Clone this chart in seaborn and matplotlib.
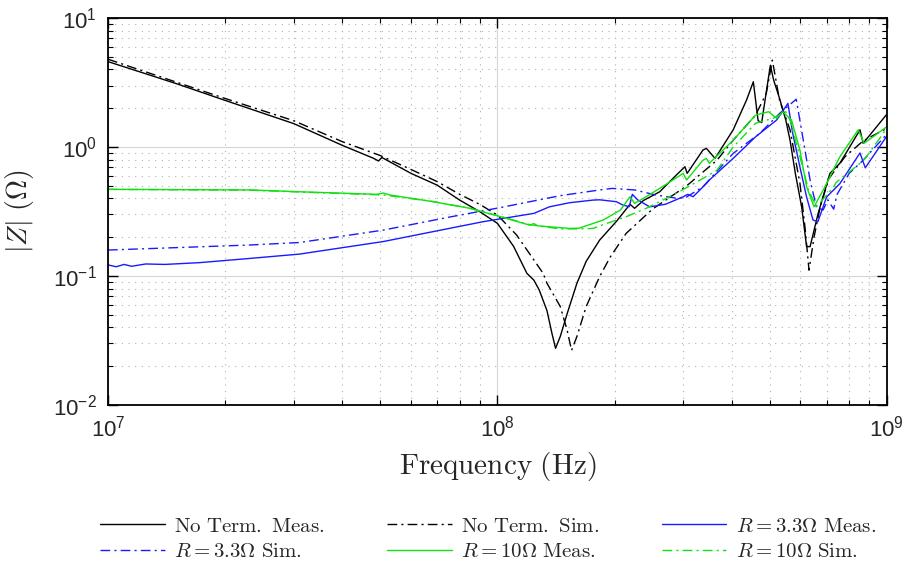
import numpy as np
import matplotlib
matplotlib.use("Agg")
import matplotlib.pyplot as plt
import seaborn as sns
from matplotlib.font_manager import FontProperties
from matplotlib.ticker import LogLocator, NullFormatter

# Impedance magnitude |Z| (Ohm) vs frequency (Hz)

# No termination, measured
ntm_f = [1.0e7, 1.5e7, 2.0e7, 3.0e7, 4.0e7, 4.8e7, 4.95e7, 5.05e7, 6.0e7, 7.0e7,
         8.0e7, 9.0e7, 1.0e8, 1.1e8, 1.19e8, 1.24e8, 1.28e8, 1.34e8, 1.38e8, 1.41e8,
         1.45e8, 1.51e8, 1.6e8, 1.69e8, 1.83e8, 2.02e8, 2.19e8, 2.25e8, 2.37e8, 2.61e8,
         2.88e8, 3.03e8, 3.07e8, 3.37e8, 3.44e8, 3.62e8, 4.03e8, 4.36e8, 4.54e8, 4.67e8,
         4.77e8, 4.91e8, 5.02e8, 5.12e8, 5.3e8, 5.5e8, 5.64e8, 5.82e8, 6.04e8, 6.22e8,
         6.35e8, 6.66e8, 7.14e8, 7.57e8, 8.53e8, 8.69e8, 1.0e9]
ntm_z = [4.6, 3.1, 2.3, 1.52, 1.03, 0.82, 0.78, 0.83, 0.625, 0.507,
         0.388, 0.316, 0.256, 0.17, 0.105, 0.093, 0.078, 0.054, 0.036, 0.0275,
         0.034, 0.051, 0.088, 0.13, 0.19, 0.265, 0.36, 0.335, 0.385, 0.45,
         0.607, 0.704, 0.625, 0.948, 0.977, 0.817, 1.36, 2.31, 3.21, 1.6,
         1.55, 2.77, 4.3, 3.3, 2.39, 1.62, 1.13, 0.625, 0.345, 0.169,
         0.169, 0.306, 0.625, 0.748, 1.36, 1.07, 1.8]

# No termination, simulated
nts_f = [1.0e7, 2.0e7, 3.0e7, 4.0e7, 5.0e7, 6.0e7, 7.0e7, 8.0e7, 9.0e7, 1.0e8,
         1.12e8, 1.31e8, 1.34e8, 1.45e8, 1.51e8, 1.55e8, 1.6e8, 1.69e8, 1.83e8, 1.95e8,
         2.14e8, 2.5e8, 3.06e8, 3.66e8, 4.03e8, 4.6e8, 4.9e8, 5.08e8, 5.3e8, 5.64e8,
         5.98e8, 6.16e8, 6.31e8, 6.5e8, 6.75e8, 7.1e8, 7.8e8, 8.7e8, 1.0e9]
nts_z = [4.8, 2.38, 1.6, 1.1, 0.86, 0.67, 0.54, 0.43, 0.36, 0.297,
         0.208, 0.105, 0.088, 0.058, 0.038, 0.0265, 0.034, 0.058, 0.099, 0.141,
         0.214, 0.33, 0.50, 0.79, 1.13, 1.77, 2.6, 4.72, 2.31, 1.36,
         0.523, 0.241, 0.111, 0.2, 0.35, 0.57, 0.84, 1.12, 1.4]

# R = 3.3 Ohm, measured
r33m_f = [1.0e7, 1.05e7, 1.1e7, 1.15e7, 1.25e7, 1.4e7, 1.72e7, 2.32e7, 3.11e7, 3.44e7,
          5.09e7, 6.84e7, 9.2e7, 1.24e8, 1.36e8, 1.53e8, 1.76e8, 1.83e8, 2.02e8, 2.1e8,
          2.18e8, 2.22e8, 2.29e8, 2.46e8, 2.7e8, 3.0e8, 3.08e8, 3.18e8, 3.44e8, 3.5e8,
          4.03e8, 4.6e8, 5.21e8, 5.57e8, 5.73e8, 5.98e8, 6.22e8, 6.46e8, 6.65e8, 7.0e8,
          7.57e8, 8.53e8, 8.8e8, 1.0e9]
r33m_z = [0.122, 0.118, 0.123, 0.119, 0.124, 0.123, 0.127, 0.137, 0.148, 0.155,
          0.185, 0.221, 0.264, 0.306, 0.344, 0.37, 0.388, 0.39, 0.377, 0.355,
          0.345, 0.43, 0.39, 0.344, 0.36, 0.412, 0.43, 0.412, 0.522, 0.555,
          0.817, 1.2, 1.62, 2.18, 1.28, 0.70, 0.41, 0.272, 0.264, 0.41,
          0.52, 0.90, 0.69, 1.22]

# R = 3.3 Ohm, simulated
r33s_f = [1.0e7, 2.32e7, 3.11e7, 5.09e7, 7.6e7, 1.02e8, 1.45e8, 1.53e8, 1.83e8, 1.97e8,
          2.25e8, 2.55e8, 2.9e8, 3.06e8, 3.37e8, 4.03e8, 4.72e8, 5.3e8, 5.85e8, 6.1e8,
          6.35e8, 6.59e8, 6.86e8, 7.05e8, 7.3e8, 7.45e8, 8.0e8, 8.69e8, 1.0e9]
r33s_z = [0.159, 0.174, 0.182, 0.227, 0.288, 0.34, 0.42, 0.43, 0.465, 0.478,
          0.465, 0.425, 0.40, 0.41, 0.492, 0.893, 1.28, 1.82, 2.35, 1.13,
          0.555, 0.344, 0.325, 0.39, 0.33, 0.43, 0.625, 0.79, 1.26]

# R = 10 Ohm, measured
r10m_f = [1.0e7, 2.32e7, 3.11e7, 4.9e7, 5.09e7, 5.3e7, 6.84e7, 8.5e7, 1.02e8, 1.21e8,
          1.24e8, 1.27e8, 1.53e8, 1.62e8, 1.87e8, 2.07e8, 2.19e8, 2.25e8, 2.37e8, 2.61e8,
          3.0e8, 3.06e8, 3.37e8, 3.44e8, 3.5e8, 4.03e8, 4.6e8, 4.97e8, 5.21e8, 5.4e8,
          5.69e8, 5.98e8, 6.22e8, 6.5e8, 7.0e8, 7.57e8, 8.44e8, 8.74e8, 1.0e9]
r10m_z = [0.47, 0.465, 0.45, 0.43, 0.44, 0.425, 0.377, 0.335, 0.288, 0.248,
          0.255, 0.245, 0.234, 0.235, 0.272, 0.325, 0.412, 0.366, 0.40, 0.478,
          0.625, 0.555, 0.79, 0.817, 0.748, 1.13, 1.77, 1.88, 1.67, 1.88,
          1.62, 0.948, 0.492, 0.344, 0.52, 0.84, 1.36, 1.07, 1.44]

# R = 10 Ohm, simulated
r10s_f = [1.0e7, 2.32e7, 5.09e7, 6.84e7, 8.5e7, 1.02e8, 1.21e8, 1.45e8, 1.62e8, 1.76e8,
          1.83e8, 2.14e8, 2.41e8, 2.88e8, 3.37e8, 3.66e8, 4.03e8, 4.6e8, 5.1e8, 5.5e8,
          5.64e8, 5.98e8, 6.29e8, 6.59e8, 7.3e8, 7.4e8, 8.53e8, 8.8e8, 1.0e9]
r10s_z = [0.47, 0.463, 0.425, 0.378, 0.335, 0.29, 0.25, 0.232, 0.232, 0.234,
          0.245, 0.288, 0.335, 0.438, 0.571, 0.66, 1.0, 1.53, 1.67, 1.88,
          1.62, 0.84, 0.465, 0.344, 0.49, 0.53, 0.748, 0.817, 1.40]

labels = [r"$\mathrm{No\ Term.\ Meas.}$", r"$\mathrm{No\ Term.\ Sim.}$",
          r"$R = 3.3\Omega\ \mathrm{Meas.}$", r"$R = 3.3\Omega\ \mathrm{Sim.}$",
          r"$R = 10\Omega\ \mathrm{Meas.}$", r"$R = 10\Omega\ \mathrm{Sim.}$"]

sns.set_theme(style="ticks")
plt.rcParams["font.family"] = ["Liberation Sans", "DejaVu Sans"]

fig = plt.figure(figsize=(9.05, 5.66), dpi=100)
ax = fig.add_axes([0.1193, 0.2845, 0.8607, 0.6835])

dashdot = (0, (7, 3, 1.5, 3))
series = [
    (ntm_f, ntm_z, "black", "-"),
    (nts_f, nts_z, "black", dashdot),
    (r33m_f, r33m_z, "#1a1aff", "-"),
    (r33s_f, r33s_z, "#1a1aff", dashdot),
    (r10m_f, r10m_z, "#11e011", "-"),
    (r10s_f, r10s_z, "#11e011", dashdot),
]
handles = []
for (f, z, col, ls), lab in zip(series, labels):
    sns.lineplot(x=f, y=z, ax=ax, color=col, linewidth=1.0, sort=False, label=lab)
    line = ax.get_lines()[-1]
    line.set_linestyle(ls)
    handles.append(line)
if ax.get_legend() is not None:
    ax.get_legend().remove()

ax.set_xscale("log")
ax.set_yscale("log")
ax.set_xlim(1e7, 1e9)
ax.set_ylim(1e-2, 1e1)
ax.xaxis.set_minor_locator(LogLocator(base=10, subs=np.arange(2, 10)))
ax.yaxis.set_minor_locator(LogLocator(base=10, subs=np.arange(2, 10)))
ax.xaxis.set_minor_formatter(NullFormatter())
ax.yaxis.set_minor_formatter(NullFormatter())

ax.grid(which="major", color="#d6d6d6", linestyle="-", linewidth=0.8)
ax.grid(which="minor", color="#b0b0b0", linestyle=(0, (1, 5)), linewidth=0.8)
ax.set_axisbelow(True)

for sp in ax.spines.values():
    sp.set_color("black")
    sp.set_linewidth(1.3)
ax.tick_params(which="both", direction="in", top=True, right=True, color="black")
ax.tick_params(which="major", length=7, width=1.0, labelsize=16, pad=8)
ax.tick_params(which="minor", length=3.5, width=0.8)

ax.set_xlabel(r"$\mathrm{Frequency\ (Hz)}$", fontsize=21, math_fontfamily="cm", labelpad=6)
ax.set_ylabel(r"$|Z|\ (\Omega)$", fontsize=20, math_fontfamily="cm", labelpad=12)

order = [0, 3, 1, 4, 2, 5]
fig.legend([handles[i] for i in order], [labels[i] for i in order],
           loc="lower center", bbox_to_anchor=(0.539, -0.024), ncol=3, frameon=False,
           handlelength=3.1, handletextpad=0.45, columnspacing=3.0, labelspacing=0.3,
           prop=FontProperties(size=15, math_fontfamily="cm"))

fig.savefig("out.png", dpi=100)
